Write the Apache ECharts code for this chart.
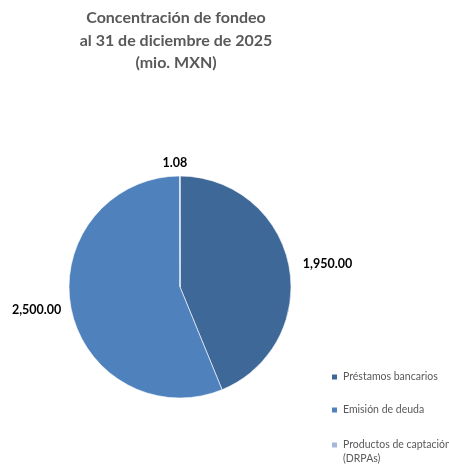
<!DOCTYPE html>
<html>
<head>
<meta charset="utf-8">
<script src="https://cdn.jsdelivr.net/npm/echarts@6/dist/echarts.min.js"></script>
<style>html,body{margin:0;padding:0;background:#fff}#c{width:449px;height:466px}</style>
</head>
<body>
<div id="c"></div>
<script>
var categories = ['Préstamos bancarios', 'Emisión de deuda', 'Productos de captación (DRPAs)'];
var values = [1950.00, 2500.00, 1.08];
var colors = ['#3E6898', '#4F81BD', '#A5B8DA'];
var legendLabels = ['Préstamos bancarios', 'Emisión de deuda', 'Productos de captación'];
var legendContinuation = '(DRPAs)';
var titleText = 'Concentración de fondeo\nal 31 de diciembre de 2025\n(mio. MXN)';

var legendTops = [370, 403, 438];
var legendTextStyle = { fontFamily: 'Lato', fontSize: 10.5, color: '#595959', lineHeight: 14 };
var legends = categories.map(function (c, i) {
  return {
    orient: 'vertical', left: 330, top: legendTops[i], padding: 0,
    itemWidth: 7, itemHeight: 7, icon: 'rect',
    textStyle: legendTextStyle,
    formatter: function (n) { return legendLabels[categories.indexOf(n)]; },
    data: [c]
  };
});

var chart = echarts.init(document.getElementById('c'));
chart.setOption({
  animation: false,
  title: {
    text: titleText,
    left: 171, top: 2, textAlign: 'center',
    textStyle: { fontFamily: 'Lato', fontSize: 16, fontWeight: 'bold', color: '#595959', lineHeight: 22.5 }
  },
  legend: legends,
  graphic: [{
    type: 'text', left: 343, top: 452,
    style: { text: legendContinuation, fontFamily: 'Lato', fontSize: 10.5, fill: '#595959', lineHeight: 14 }
  }],
  series: [{
    type: 'pie',
    center: [180, 287],
    radius: 111,
    startAngle: 90,
    clockwise: true,
    avoidLabelOverlap: false,
    itemStyle: { borderColor: '#fff', borderWidth: 0.6 },
    label: {
      show: true, position: 'outside',
      fontFamily: 'Lato', fontSize: 12.5, fontWeight: 'bold', color: '#000',
      formatter: function (p) { return echarts.format.addCommas(p.value.toFixed(2)); }
    },
    labelLine: { show: false, length: 9, length2: 0 },
    labelLayout: function (p) {
      if (p.dataIndex === 2) return { align: 'center', dy: -4 };
      if (p.dataIndex === 1) return { dx: 4 };
      return {};
    },
    emphasis: { disabled: true },
    data: categories.map(function (c, i) { return { name: c, value: values[i], itemStyle: { color: colors[i] } }; })
  }]
});
</script>
</body>
</html>
